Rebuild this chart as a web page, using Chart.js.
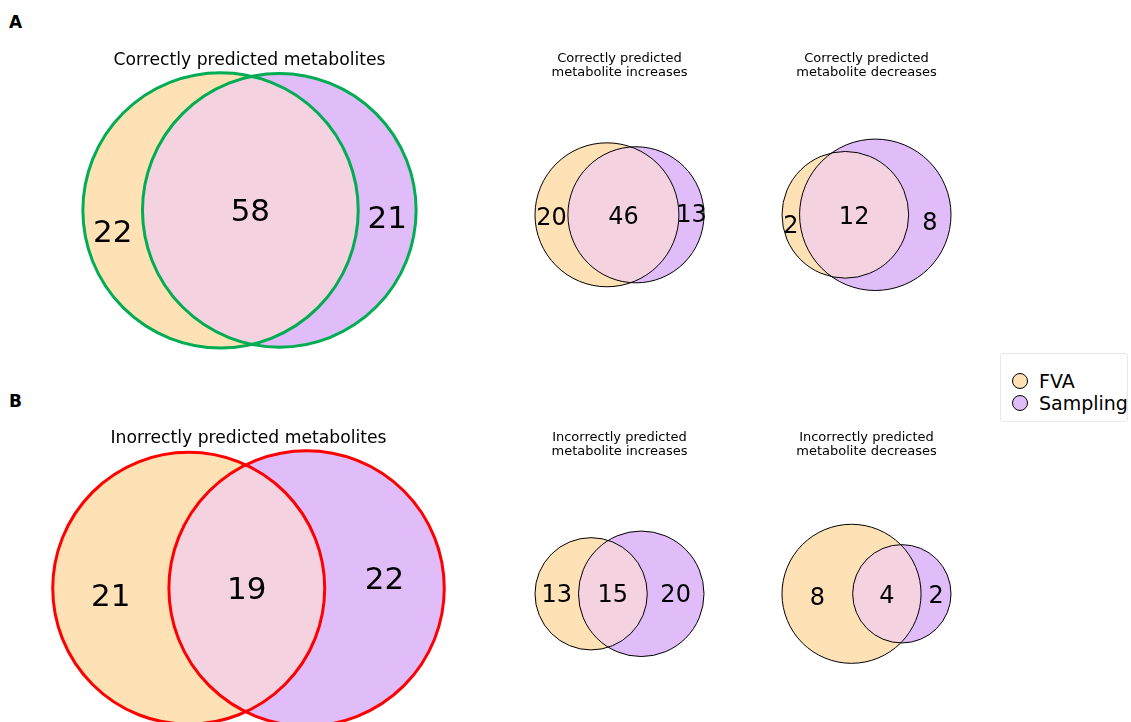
<!DOCTYPE html>
<html>
<head>
<meta charset="utf-8">
<script src="https://cdn.jsdelivr.net/npm/chart.js@4.4.0/dist/chart.umd.min.js"></script>
<style>
  html, body { margin: 0; padding: 0; background: #fff; overflow: hidden; }
  body { width: 1131px; height: 722px; position: relative; font-family: "DejaVu Sans", sans-serif; }
  canvas { position: absolute; }
  .tag { position: absolute; font-weight: bold; font-size: 17px; line-height: 17px; }
  #legend { position: absolute; left: 1000px; top: 353px; width: 126px; height: 67px;
            border: 1px solid #e8e8e8; border-radius: 3px; background: #fff; }
  .item { position: absolute; left: 11px; height: 16px; font-size: 19px; line-height: 16px; white-space: nowrap; }
  .dot { display: inline-block; width: 14px; height: 14px; border: 1px solid #000; border-radius: 50%;
         vertical-align: top; margin-right: 11px; }
</style>
</head>
<body>
<div class="tag" style="left:9px;top:14px">A</div>
<div class="tag" style="left:9px;top:393px">B</div>
<canvas id="c0"></canvas>
<canvas id="c1"></canvas>
<canvas id="c2"></canvas>
<canvas id="c3"></canvas>
<canvas id="c4"></canvas>
<canvas id="c5"></canvas>
<div id="legend"></div>
<script>
// one entry per diagram: A-top row, then B-bottom row
const titles = [
  'Correctly predicted metabolites',
  ['Correctly predicted', 'metabolite increases'],
  ['Correctly predicted', 'metabolite decreases'],
  'Inorrectly predicted metabolites',
  ['Incorrectly predicted', 'metabolite increases'],
  ['Incorrectly predicted', 'metabolite decreases']
];
const fvaOnly      = [22, 20, 2, 21, 13, 8];
const samplingOnly = [21, 13, 8, 22, 20, 2];
const shared       = [58, 46, 12, 19, 15, 4];
const setNames = ['FVA', 'Sampling'];

// styling
const colFva = '#fee1b4';
const colSampling = '#e0bcf8';
const colShared = '#f5d2e0';
const big = { width: 425, height: 301, pad: { left: 0, right: 0, top: 0, bottom: 3 },
              titleSize: 17.2, titleLH: 1.2, titlePad: 2, edgeW: 3, numSize: 31 };
const small = { width: 179, height: 296, pad: { left: 5, right: 5, top: 0, bottom: 3 },
                titleSize: 13, titleLH: 1.1, titlePad: 6, edgeW: 1, numSize: 24, edge: '#000' };
const panels = [
  Object.assign({}, big, { left: 37, top: 50, edge: '#00ad52' }),
  Object.assign({}, small, { left: 530, top: 51 }),
  Object.assign({}, small, { left: 777, top: 51 }),
  Object.assign({}, big, { left: 36, top: 428, edge: '#ff0000' }),
  Object.assign({}, small, { left: 530, top: 430 }),
  Object.assign({}, small, { left: 777, top: 430 })
];
// small vertical nudges (px) for the labels: [FVA only, shared, Sampling only]
const nudge = [[24, 3, 10], [4, 3, 1], [12, 3, 9], [10, 3, -7], [2, 2, 2], [5, 3, 3]];

function lensArea(r1, r2, d) {
  if (d >= r1 + r2) return 0;
  if (d <= Math.abs(r1 - r2)) return Math.PI * Math.min(r1, r2) ** 2;
  const a1 = Math.acos((d * d + r1 * r1 - r2 * r2) / (2 * d * r1));
  const a2 = Math.acos((d * d + r2 * r2 - r1 * r1) / (2 * d * r2));
  const k = Math.sqrt((-d + r1 + r2) * (d + r1 - r2) * (d - r1 + r2) * (d + r1 + r2));
  return r1 * r1 * a1 + r2 * r2 * a2 - 0.5 * k;
}

// area-proportional two circle layout
function vennGeometry(a, b, ab) {
  const total = a + b + ab;
  const rA = Math.sqrt((a + ab) / total / Math.PI);
  const rB = Math.sqrt((b + ab) / total / Math.PI);
  const target = ab / total;
  let lo = Math.abs(rA - rB), hi = rA + rB;
  for (let i = 0; i < 80; i++) {
    const mid = (lo + hi) / 2;
    if (lensArea(rA, rB, mid) > target) lo = mid; else hi = mid;
  }
  const d = (lo + hi) / 2;
  return { rA, rB, d };
}

function pxRadius(chart, r) {
  const s = chart.scales.x;
  return Math.abs(s.getPixelForValue(r) - s.getPixelForValue(0));
}

const sharedFill = {
  id: 'sharedFill',
  afterDatasetDraw(chart, args, opts) {
    if (args.index !== 1) return;
    const g = opts.geo;
    const x = chart.scales.x, y = chart.scales.y;
    const ctx = chart.ctx;
    ctx.save();
    ctx.beginPath();
    ctx.arc(x.getPixelForValue(0), y.getPixelForValue(0), pxRadius(chart, g.rA), 0, Math.PI * 2);
    ctx.clip();
    ctx.beginPath();
    ctx.arc(x.getPixelForValue(g.d), y.getPixelForValue(0), pxRadius(chart, g.rB), 0, Math.PI * 2);
    ctx.fillStyle = colShared;
    ctx.fill();
    ctx.restore();
  }
};

const countLabels = {
  id: 'countLabels',
  afterDatasetsDraw(chart, args, opts) {
    const x = chart.scales.x, y = chart.scales.y;
    const ctx = chart.ctx;
    ctx.save();
    ctx.font = opts.size + 'px "DejaVu Sans"';
    ctx.fillStyle = '#000';
    ctx.textAlign = 'center';
    ctx.textBaseline = 'middle';
    opts.items.forEach((it, k) => {
      ctx.fillText(String(it.v), x.getPixelForValue(it.x), y.getPixelForValue(0) + opts.nudge[k]);
    });
    ctx.restore();
  }
};

panels.forEach((p, i) => {
  const g = vennGeometry(fvaOnly[i], samplingOnly[i], shared[i]);
  const x0 = Math.min(-g.rA, g.d - g.rB), x1 = Math.max(g.rA, g.d + g.rB);
  const yh = Math.max(g.rA, g.rB);
  const lines = Array.isArray(titles[i]) ? titles[i].length : 1;
  const titleH = lines * p.titleSize * p.titleLH + p.titlePad;
  const w = p.width - p.pad.left - p.pad.right;
  const h = p.height - titleH - p.pad.top - p.pad.bottom;
  const s = Math.min(w / (x1 - x0), h / (2 * yh));
  const cx = (x0 + x1) / 2;

  const canvas = document.getElementById('c' + i);
  canvas.width = p.width;
  canvas.height = p.height;
  canvas.style.left = p.left + 'px';
  canvas.style.top = p.top + 'px';

  const items = [
    { v: fvaOnly[i], x: (-g.rA + g.d - g.rB) / 2 },
    { v: shared[i], x: (g.d - g.rB + g.rA) / 2 },
    { v: samplingOnly[i], x: (g.rA + g.d + g.rB) / 2 }
  ];

  const circle = (label, cxv, r, fill, edge, bw, order) => ({
    label: label,
    data: [{ x: cxv, y: 0 }],
    pointRadius: c => pxRadius(c.chart, r),
    pointHoverRadius: c => pxRadius(c.chart, r),
    pointBackgroundColor: fill,
    pointBorderColor: edge,
    pointBorderWidth: bw,
    order: order,
    clip: false
  });

  new Chart(canvas.getContext('2d'), {
    type: 'scatter',
    data: {
      datasets: [
        circle(setNames[0], 0, g.rA, colFva, 'rgba(0,0,0,0)', 0, 4),
        circle(setNames[1], g.d, g.rB, colSampling, 'rgba(0,0,0,0)', 0, 3),
        circle(setNames[0] + ' edge', 0, g.rA, 'rgba(0,0,0,0)', p.edge, p.edgeW, 2),
        circle(setNames[1] + ' edge', g.d, g.rB, 'rgba(0,0,0,0)', p.edge, p.edgeW, 1)
      ]
    },
    options: {
      responsive: false,
      animation: false,
      events: [],
      layout: { padding: p.pad },
      scales: {
        x: { type: 'linear', display: false, bounds: 'data', min: cx - w / (2 * s), max: cx + w / (2 * s) },
        y: { type: 'linear', display: false, bounds: 'data', min: -h / (2 * s), max: h / (2 * s) }
      },
      plugins: {
        legend: { display: false },
        tooltip: { enabled: false },
        title: {
          display: true,
          text: titles[i],
          color: '#000',
          font: { family: '"DejaVu Sans"', size: p.titleSize, weight: 'normal', lineHeight: p.titleLH },
          padding: { top: 0, bottom: p.titlePad }
        },
        sharedFill: { geo: g },
        countLabels: { items: items, size: p.numSize, nudge: nudge[i] }
      }
    },
    plugins: [sharedFill, countLabels]
  });
});

const legend = document.getElementById('legend');
[colFva, colSampling].forEach((c, k) => {
  const row = document.createElement('div');
  row.className = 'item';
  row.style.top = (19 + k * 22) + 'px';
  row.innerHTML = '<span class="dot" style="background:' + c + '"></span>' + setNames[k];
  legend.appendChild(row);
});
</script>
</body>
</html>
